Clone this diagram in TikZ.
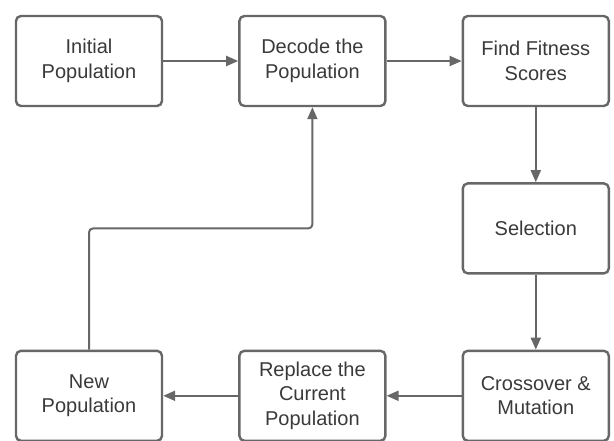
\documentclass[tikz,border=0pt]{standalone}
\usepackage{fontspec}
\setmainfont{Liberation Sans}
\usetikzlibrary{positioning, arrows.meta}
\definecolor{lineGray}{HTML}{676767}
\definecolor{textGray}{HTML}{3A3A3A}
\tikzset{
	stepBox/.style={
		draw=lineGray,
		fill=white,
		line width=2.4pt,
		rounded corners=5pt,
		minimum width=146pt,
		minimum height=90pt,
		align=center,
		text=textGray,
		font=\fontsize{20}{24.5}\selectfont
	},
	flowArrow/.style={
		draw=lineGray,
		line width=2pt,
		-{Triangle[length=12pt,width=10pt]}
	},
}
\begin{document}
\begin{tikzpicture}[node distance=75pt and 75pt]
\useasboundingbox (0,0) rectangle (614pt,-441pt);
\node[stepBox] (initPop) at (89pt,-61pt) {Initial\\Population};
\node[stepBox, right=of initPop] (decode) {Decode the\\Population};
\node[stepBox, right=of decode] (fitness) {Find Fitness\\Scores};
\node[stepBox, below=of fitness] (selection) {Selection};
\node[stepBox, below=75pt of selection] (crossover) {Crossover \&\\Mutation};
\node[stepBox, left=of crossover] (replace) {Replace the\\Current\\Population};
\node[stepBox, left=of replace] (newPop) {New\\Population};
% top row
\draw[flowArrow] (initPop) -- (decode);
\draw[flowArrow] (decode) -- (fitness);
% right column
\draw[flowArrow] (fitness) -- (selection);
\draw[flowArrow] (selection) -- (crossover);
% bottom row
\draw[flowArrow] (crossover) -- (replace);
\draw[flowArrow] (replace) -- (newPop);
% loop back
\draw[flowArrow, rounded corners=4pt] (newPop.north) -- (newPop.north |- selection.west) -| (decode.south);
\end{tikzpicture}
\end{document}
